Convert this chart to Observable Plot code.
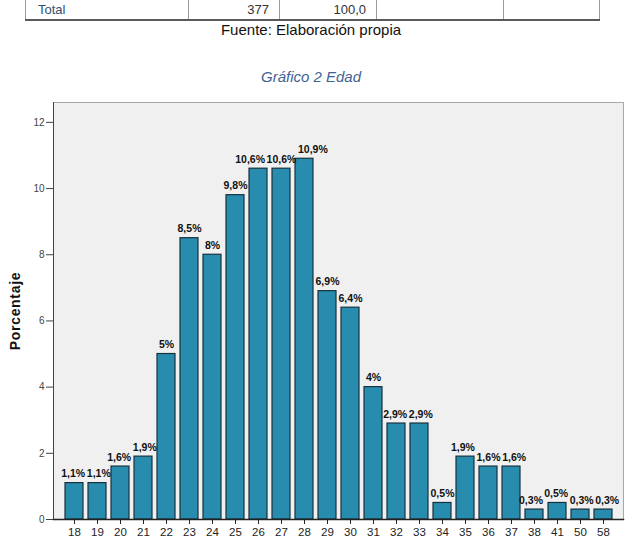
<!DOCTYPE html>
<html>
<head>
<meta charset="utf-8">
<script src="https://cdn.jsdelivr.net/npm/d3@7"></script>
<script src="https://cdn.jsdelivr.net/npm/@observablehq/plot@0.6"></script>
<style>
  body { margin: 0; background: #fff; font-family: "Liberation Sans", Arial, sans-serif; }
  #page { position: relative; width: 631px; height: 540px; overflow: hidden; }
  #header { position: relative; height: 92px; }
  table.freq {
    position: absolute; left: 25px; top: -12px; width: 575px;
    border-collapse: collapse; table-layout: fixed; font-size: 13px;
  }
  table.freq td {
    height: 31px; padding: 0 10px 0 12px; vertical-align: bottom; line-height: 18px;
    border-left: 1px solid #9a9a9a; border-right: 1px solid #9a9a9a;
    border-bottom: 2px solid #5a5a5a; color: #333;
  }
  table.freq td.cat { color: #34506f; }
  table.freq td.num { text-align: right; }
  .fuente { position: absolute; left: 0; width: 622px; top: 21px; text-align: center; font-size: 15px; color: #111; }
  .titulo { position: absolute; left: 0; width: 622px; top: 68px; text-align: center; font-size: 15px; font-style: italic; color: #3f6391; }
  #chart svg { display: block; }
</style>
</head>
<body>
<div id="page">
  <div id="header">
    <table class="freq">
      <colgroup>
        <col style="width:163px"><col style="width:91px"><col style="width:97px"><col style="width:127px"><col style="width:96px">
      </colgroup>
      <tr>
        <td class="cat">Total</td>
        <td class="num">377</td>
        <td class="num">100,0</td>
        <td></td>
        <td></td>
      </tr>
    </table>
    <div class="fuente">Fuente: Elaboración propia</div>
    <div class="titulo">Gráfico 2 Edad</div>
  </div>
  <div id="chart"></div>
</div>
<script>
// Distribución de la muestra por edad (porcentaje de casos)
const ages = ["18","19","20","21","22","23","24","25","26","27","28","29","30","31","32","33","34","35","36","37","38","41","50","58"];
const percents = [1.1, 1.1, 1.6, 1.9, 5, 8.5, 8, 9.8, 10.6, 10.6, 10.9, 6.9, 6.4, 4, 2.9, 2.9, 0.5, 1.9, 1.6, 1.6, 0.3, 0.5, 0.3, 0.3];
const yTicks = [0, 2, 4, 6, 8, 10, 12];
const yLabel = "Porcentaje";

const rows = ages.map((edad, i) => ({edad, pct: percents[i]}));
const fmtPct = v => String(v).replace(".", ",") + "%";

const chart = Plot.plot({
  width: 631,
  height: 448,
  marginTop: 10,
  marginBottom: 21,
  marginLeft: 53,
  marginRight: 8,
  style: {fontFamily: "'Liberation Sans', Arial, sans-serif", background: "transparent", color: "#222"},
  x: {domain: ages, paddingInner: 0.22, paddingOuter: 0.34, label: null},
  y: {domain: [0, 12.6], label: null},
  marks: [
    Plot.frame({fill: "#f0f0f0", stroke: "#a8a8a8"}),
    Plot.barY(rows, {x: "edad", y: "pct", fill: "#278cae", stroke: "#18323d", strokeWidth: 1.2}),
    // value labels (first text mark)
    Plot.text(rows, {
      x: "edad", y: "pct", text: d => fmtPct(d.pct),
      lineAnchor: "bottom", dy: -6, fontWeight: "bold", fontSize: 10.5, fill: "#111"
    }),
    Plot.frame({anchor: "left", stroke: "#444"}),
    Plot.frame({anchor: "bottom", stroke: "#222", strokeWidth: 1.5}),
    Plot.axisY({ticks: yTicks, tickSize: 7, tickPadding: 2, fontSize: 10, color: "#444", label: null}),
    Plot.axisX({tickSize: 5, tickPadding: 3, fontSize: 11.5, color: "#222", label: null}),
    // vertical axis title (second text mark)
    Plot.text([yLabel], {
      frameAnchor: "left", rotate: -90, dx: -38, textAnchor: "middle",
      fontWeight: "bold", fontSize: 14, fill: "#111"
    })
  ]
});
document.getElementById("chart").appendChild(chart);

const textGroups = d3.select(chart).selectAll('g[aria-label="text"]').nodes();

// Letter spacing for the vertical axis title
if (textGroups[1]) d3.select(textGroups[1]).selectAll("text").style("letter-spacing", "0.7px");

// Push apart neighbouring value labels that collide (screen-space boxes)
const labels = textGroups[0] ? d3.select(textGroups[0]).selectAll("text").nodes() : [];
const boxes = labels.map(t => t.getBoundingClientRect());
const shift = new Array(labels.length).fill(0);
for (let pass = 0; pass < 4; pass++) {
  for (let i = 0; i < labels.length - 1; i++) {
    const a = boxes[i], b = boxes[i + 1];
    const vOverlap = a.top < b.bottom - 2 && b.top < a.bottom - 2;
    const gap = (a.right + shift[i]) + 1 - (b.left + shift[i + 1]);
    if (vOverlap && gap > 0) {
      shift[i] -= gap / 2;
      shift[i + 1] += gap / 2;
    }
  }
}
labels.forEach((t, i) => { if (shift[i]) t.setAttribute("dx", shift[i].toFixed(1)); });
</script>
</body>
</html>
